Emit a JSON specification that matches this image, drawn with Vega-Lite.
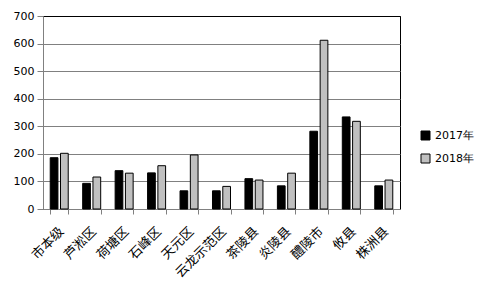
{
  "$schema": "https://vega.github.io/schema/vega-lite/v6.json",
  "autosize": "none",
  "width": 357,
  "height": 193,
  "padding": {"left": 43, "top": 16, "right": 102, "bottom": 83},
  "background": "white",
  "config": {
    "view": {"stroke": "#000000", "strokeWidth": 1},
    "font": "DejaVu Sans"
  },
  "data": {
    "values": [
      {"region": "市本级", "year": "2017年", "value": 186},
      {"region": "市本级", "year": "2018年", "value": 202},
      {"region": "芦淞区", "year": "2017年", "value": 93},
      {"region": "芦淞区", "year": "2018年", "value": 116},
      {"region": "荷塘区", "year": "2017年", "value": 139},
      {"region": "荷塘区", "year": "2018年", "value": 130},
      {"region": "石峰区", "year": "2017年", "value": 131},
      {"region": "石峰区", "year": "2018年", "value": 157},
      {"region": "天元区", "year": "2017年", "value": 66},
      {"region": "天元区", "year": "2018年", "value": 196},
      {"region": "云龙示范区", "year": "2017年", "value": 66},
      {"region": "云龙示范区", "year": "2018年", "value": 82},
      {"region": "茶陵县", "year": "2017年", "value": 110},
      {"region": "茶陵县", "year": "2018年", "value": 105},
      {"region": "炎陵县", "year": "2017年", "value": 84},
      {"region": "炎陵县", "year": "2018年", "value": 130},
      {"region": "醴陵市", "year": "2017年", "value": 282},
      {"region": "醴陵市", "year": "2018年", "value": 612},
      {"region": "攸县", "year": "2017年", "value": 334},
      {"region": "攸县", "year": "2018年", "value": 318},
      {"region": "株洲县", "year": "2017年", "value": 84},
      {"region": "株洲县", "year": "2018年", "value": 105}
    ]
  },
  "mark": {"type": "bar", "stroke": "#000000", "strokeWidth": 1},
  "encoding": {
    "x": {
      "field": "region",
      "type": "nominal",
      "sort": null,
      "title": null,
      "scale": {"paddingInner": 0.445, "paddingOuter": 0.2225},
      "axis": {
        "tickBand": "extent",
        "tickSize": 5,
        "tickColor": "#808080",
        "domainColor": "#808080",
        "labelAngle": -45,
        "labelAlign": "right",
        "labelBaseline": "middle",
        "labelFont": "Noto Sans CJK SC",
        "labelFontSize": 13,
        "labelColor": "#000000",
        "labelPadding": 15,
        "labelOffset": 2,
        "grid": false
      }
    },
    "xOffset": {
      "field": "year",
      "type": "nominal",
      "scale": {"paddingInner": 0.25, "paddingOuter": 0}
    },
    "y": {
      "field": "value",
      "type": "quantitative",
      "title": null,
      "scale": {"domain": [0, 700], "nice": false},
      "axis": {
        "values": [0, 100, 200, 300, 400, 500, 600, 700],
        "tickSize": 6,
        "tickColor": "#808080",
        "domainColor": "#808080",
        "gridColor": {"condition": {"test": "datum.value == 700", "value": "#000000"}, "value": "#808080"},
        "gridOpacity": 1,
        "labelFontSize": 11,
        "labelColor": "#000000",
        "labelPadding": 3
      }
    },
    "fill": {
      "field": "year",
      "type": "nominal",
      "title": null,
      "scale": {"domain": ["2017年", "2018年"], "range": ["#000000", "#c0c0c0"]},
      "legend": {
        "orient": "none",
        "legendX": 377,
        "legendY": 114,
        "padding": 0,
        "symbolType": "square",
        "symbolSize": 81,
        "symbolStrokeColor": "#000000",
        "symbolStrokeWidth": 1,
        "rowPadding": 10,
        "labelFontSize": 11,
        "labelColor": "#000000",
        "labelFont": "DejaVu Sans"
      }
    }
  }
}
